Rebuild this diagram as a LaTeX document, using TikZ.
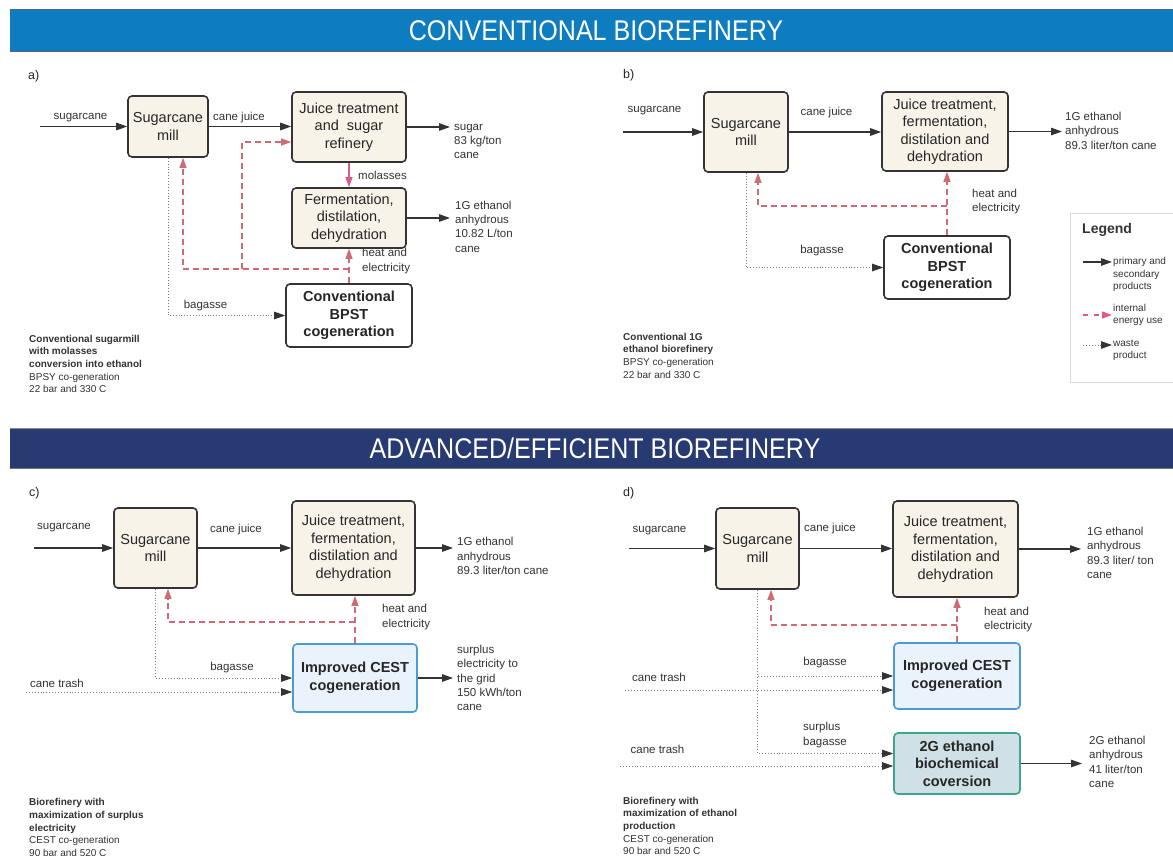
\documentclass[tikz,border=0pt]{standalone}
\usepackage{fontspec}
\setmainfont{Liberation Sans}
\newfontfamily\headfont[FakeStretch=0.88]{Liberation Sans}
\usetikzlibrary{arrows.meta}
\definecolor{beige}{HTML}{F7F3E8}
\definecolor{boxline}{HTML}{333333}
\definecolor{heatc}{HTML}{CF6B75}
\definecolor{molc}{HTML}{DC5A8A}
\definecolor{bluef}{HTML}{EAF3FC}
\definecolor{bluel}{HTML}{4A9AD4}
\definecolor{tealf}{HTML}{CFE1E6}
\definecolor{teall}{HTML}{3EA58D}
\definecolor{barone}{HTML}{0D7DC0}
\definecolor{bartwo}{HTML}{283A72}
\definecolor{txt}{HTML}{333333}
\definecolor{wastec}{HTML}{7A7A7A}
\definecolor{tipc}{HTML}{333333}
\tikzset{
 proc/.style={draw=boxline, line width=1.6pt, rounded corners=4pt, fill=beige, align=center, text=black!85, font=\fontsize{14.5}{17.5}\selectfont, inner sep=0pt},
 cogenbox/.style={proc, fill=white, font=\bfseries\fontsize{14.5}{17.5}\selectfont},
 cestbox/.style={cogenbox, draw=bluel, fill=bluef},
 gtwobox/.style={cogenbox, draw=teall, fill=tealf},
 prim/.style={draw=tipc, line width=1.2pt, -{Triangle[length=11pt,width=7.5pt]}},
 heat/.style={draw=heatc, line width=1.2pt, dash pattern=on 6pt off 4pt, -{Triangle[length=10pt,width=7pt]}},
 mol/.style={draw=molc, line width=1.3pt, -{Triangle[length=10pt,width=7pt]}},
 waste/.style={draw=wastec, line width=0.9pt, dotted, -{Triangle[length=11pt,width=7.5pt,color=tipc]}},
 lbl/.style={text=txt, font=\fontsize{11.5}{14.4}\selectfont, inner sep=0pt, align=left},
 captxt/.style={text=txt, font=\fontsize{10}{12.7}\selectfont, inner sep=0pt, align=left, anchor=west},
 legtxt/.style={text=txt, font=\fontsize{10}{12.5}\selectfont, inner sep=0pt, align=left, anchor=west},
 panel/.style={text=black!85, font=\fontsize{12.5}{14}\selectfont, inner sep=0pt, anchor=west},
 headtxt/.style={text=white, font=\headfont\fontsize{28.5}{32}\selectfont, inner sep=0pt}
}
\begin{document}
\begin{tikzpicture}[x=1pt,y=-1pt]
\clip (0,0) rectangle (1173,857);
\fill[white] (0,0) rectangle (1173,857);

% ---------------- headers
\fill[barone] (10,9) rectangle (1180,52);
\draw[line width=1.4pt, color=bartwo!80] (10,9.5) -- (1180,9.5);
\draw[line width=1.4pt, color=bartwo!80] (10,51.5) -- (1180,51.5);
\node[headtxt] (h1) at (596,31) {CONVENTIONAL BIOREFINERY};
\fill[bartwo] (10,428) rectangle (1180,469);
\draw[line width=1.2pt, color=black!45] (10,428.5) -- (1180,428.5);
\draw[line width=1.2pt, color=black!55] (10,468.5) -- (1180,468.5);
\node[headtxt] (h2) at (595,448) {ADVANCED/EFFICIENT BIOREFINERY};

% ---------------- panel a
\node[panel] (pa) at (28,76) {a)};
\node[proc, minimum width=80pt, minimum height=61pt] (milla) at (168,126.5) {Sugarcane\\mill};
\node[proc, minimum width=114pt, minimum height=70pt] (juicea) at (349,127) {Juice treatment\\and~ sugar\\refinery};
\node[proc, minimum width=114pt, minimum height=60pt] (ferma) at (349,218) {Fermentation,\\distilation,\\dehydration};
\node[cogenbox, minimum width=126pt, minimum height=63pt] (cogena) at (349,315.5) {Conventional\\BPST\\cogeneration};
\coordinate (a-in) at (40,126.5);
\coordinate (a-sugar) at (450,127);
\coordinate (a-eth) at (450,218);
\coordinate (ha1) at (349,269);
\coordinate (ha2) at (242,269);
\draw[prim] (a-in) -- (milla.west);
\draw[prim] (milla.east) -- (milla.east -| juicea.west);
\draw[prim] (juicea.east) -- (a-sugar);
\draw[prim] (ferma.east) -- (a-eth);
\draw[mol] (juicea.south) -- (ferma.north);
\draw[heat] (cogena.north) -- (ferma.south);
\draw[heat] (ha1) -| ([xshift=15pt]milla.south);
\draw[heat] (ha2) |- ([yshift=-15pt]juicea.west);
\draw[waste] (milla.south) |- (cogena.west);
\node[lbl] (la1) at (80.5,118) {sugarcane};
\node[lbl] (la2) at (239,118) {cane juice};
\node[lbl, anchor=west] (la3) at (454,141.5) {sugar\\83 kg/ton\\cane};
\node[lbl, anchor=west] (la4) at (358,175) {molasses};
\node[lbl, anchor=west] (la5) at (455,226.5) {1G ethanol\\anhydrous\\10.82 L/ton\\cane};
\node[lbl, anchor=west] (la6) at (362,261) {heat and\\electricity};
\node[lbl] (la7) at (205.5,305.5) {bagasse};
\node[captxt] (ca) at (29,364) {\textbf{Conventional sugarmill}\\\textbf{with molasses}\\\textbf{conversion into ethanol}\\BPSY co-generation\\22 bar and 330 C};

% ---------------- panel b
\node[panel] (pb) at (623,75) {b)};
\node[proc, minimum width=84pt, minimum height=80pt] (millb) at (746,132) {Sugarcane\\mill};
\node[proc, minimum width=126pt, minimum height=79pt] (juiceb) at (945,131.5) {Juice treatment,\\fermentation,\\distilation and\\dehydration};
\node[cogenbox, minimum width=126pt, minimum height=63pt] (cogenb) at (947,267.5) {Conventional\\BPST\\cogeneration};
\coordinate (b-in) at (623,132);
\coordinate (b-out) at (1062,131.5);
\coordinate (hb1) at (947,206);
\draw[prim] (b-in) -- (millb.west);
\draw[prim] (millb.east) -- (millb.east -| juiceb.west);
\draw[prim] (juiceb.east) -- (b-out);
\draw[heat] (cogenb.north) -- (cogenb.north |- juiceb.south);
\draw[heat] (hb1) -| ([xshift=12pt]millb.south);
\draw[waste] (millb.south) |- (cogenb.west);
\node[lbl] (lb1) at (654.5,111) {sugarcane};
\node[lbl] (lb2) at (826.5,113) {cane juice};
\node[lbl, anchor=west] (lb3) at (1065,130.5) {1G ethanol\\anhydrous\\89.3 liter/ton cane};
\node[lbl, anchor=west] (lb4) at (972,201.5) {heat and\\electricity};
\node[lbl] (lb5) at (822,251) {bagasse};
\node[captxt] (cb) at (623,355.5) {\textbf{Conventional 1G}\\\textbf{ethanol biorefinery}\\BPSY co-generation\\22 bar and 330 C};

% ---------------- legend
\node[draw=black!15, line width=0.8pt, minimum width=130pt, minimum height=169pt, anchor=north west, inner sep=0pt] (leg) at (1070,213) {};
\node[text=txt, font=\bfseries\fontsize{14}{16}\selectfont, inner sep=0pt, anchor=west] (legt) at (1082,230) {Legend};
\coordinate (l1a) at (1083,262);
\coordinate (l1b) at (1112,262);
\coordinate (l2a) at (1083,315);
\coordinate (l2b) at (1112,315);
\coordinate (l3a) at (1083,345);
\coordinate (l3b) at (1112,345);
\draw[prim] (l1a) -- (l1b);
\draw[mol, dash pattern=on 5pt off 6pt] (l2a) -- (l2b);
\draw[waste] (l3a) -- (l3b);
\node[legtxt] (lt1) at (1113,274.5) {primary and\\secondary\\products};
\node[legtxt] (lt2) at (1113,315) {internal\\energy use};
\node[legtxt] (lt3) at (1113,350.5) {waste\\product};

% ---------------- panel c
\node[panel] (pc) at (29,493) {c)};
\node[proc, minimum width=83pt, minimum height=80pt] (millc) at (155.5,548) {Sugarcane\\mill};
\node[proc, minimum width=123pt, minimum height=94pt] (juicec) at (353.5,548) {Juice treatment,\\fermentation,\\distilation and\\dehydration};
\node[cestbox, minimum width=124pt, minimum height=68pt] (cogenc) at (355,678) {Improved CEST\\cogeneration};
\coordinate (c-in) at (34,548);
\coordinate (c-out) at (453,548);
\coordinate (c-el) at (453,678);
\coordinate (c-trash) at (26,692);
\coordinate (hc1) at (355,622);
\draw[prim] (c-in) -- (millc.west);
\draw[prim] (millc.east) -- (juicec.west);
\draw[prim] (juicec.east) -- (c-out);
\draw[prim] (cogenc.east) -- (c-el);
\draw[heat] (cogenc.north) -- (cogenc.north |- juicec.south);
\draw[heat] (hc1) -| ([xshift=12.5pt]millc.south);
\draw[waste] (millc.south) |- (cogenc.west);
\draw[waste] (c-trash) -- (c-trash -| cogenc.west);
\node[lbl] (lc1) at (64,528) {sugarcane};
\node[lbl] (lc2) at (236,530) {cane juice};
\node[lbl, anchor=west] (lc3) at (457,556) {1G ethanol\\anhydrous\\89.3 liter/ton cane};
\node[lbl, anchor=west] (lc4) at (382,617) {heat and\\electricity};
\node[lbl, anchor=west] (lc5) at (457,678) {surplus\\electricity to\\the grid\\150 kWh/ton\\cane};
\node[lbl] (lc6) at (232,668) {bagasse};
\node[lbl] (lc7) at (57,683) {cane trash};
\node[captxt] (cc) at (29,827.5) {\textbf{Biorefinery with}\\\textbf{maximization of surplus}\\\textbf{electricity}\\CEST co-generation\\90 bar and 520 C};

% ---------------- panel d
\node[panel] (pd) at (623,493) {d)};
\node[proc, minimum width=83pt, minimum height=81pt] (milld) at (757.5,548.5) {Sugarcane\\mill};
\node[proc, minimum width=125pt, minimum height=96pt] (juiced) at (955.5,549) {Juice treatment,\\fermentation,\\distilation and\\dehydration};
\node[cestbox, minimum width=126pt, minimum height=66pt] (cogend) at (957,676) {Improved CEST\\cogeneration};
\node[gtwobox, minimum width=126pt, minimum height=61pt] (gtwod) at (957,763.5) {2G ethanol\\biochemical\\coversion};
\coordinate (d-in) at (629,548.5);
\coordinate (d-out) at (1081,549);
\coordinate (d-trash1) at (625,690);
\coordinate (d-trash2) at (620,766);
\coordinate (d-2g) at (1082,763.5);
\coordinate (hd1) at (957,625);
\draw[prim] (d-in) -- (milld.west);
\draw[prim] (milld.east) -- (milld.east -| juiced.west);
\draw[prim] (juiced.east) -- (d-out);
\draw[prim] (gtwod.east) -- (d-2g);
\draw[heat] (cogend.north) -- (cogend.north |- juiced.south);
\draw[heat] (hd1) -| ([xshift=13.5pt]milld.south);
\draw[waste] (milld.south) |- (cogend.west);
\draw[waste] (milld.south) |- ([yshift=10pt]gtwod.west);
\draw[waste] (d-trash1) -- (d-trash1 -| cogend.west);
\draw[waste] (d-trash2) -- (d-trash2 -| gtwod.west);
\node[lbl] (ld1) at (659.5,531) {sugarcane};
\node[lbl] (ld2) at (830,529) {cane juice};
\node[lbl, anchor=west] (ld3) at (1087,553) {1G ethanol\\anhydrous\\89.3 liter/ ton\\cane};
\node[lbl, anchor=west] (ld4) at (984,619.5) {heat and\\electricity};
\node[lbl] (ld5) at (825,663) {bagasse};
\node[lbl] (ld6) at (659,677) {cane trash};
\node[lbl, anchor=west] (ld7) at (803,735) {surplus\\bagasse};
\node[lbl] (ld8) at (657.5,749) {cane trash};
\node[lbl, anchor=west] (ld9) at (1089,762) {2G ethanol\\anhydrous\\41 liter/ton\\cane};
\node[captxt] (cd) at (623,826) {\textbf{Biorefinery with}\\\textbf{maximization of ethanol}\\\textbf{production}\\CEST co-generation\\90 bar and 520 C};
\end{tikzpicture}
\end{document}
